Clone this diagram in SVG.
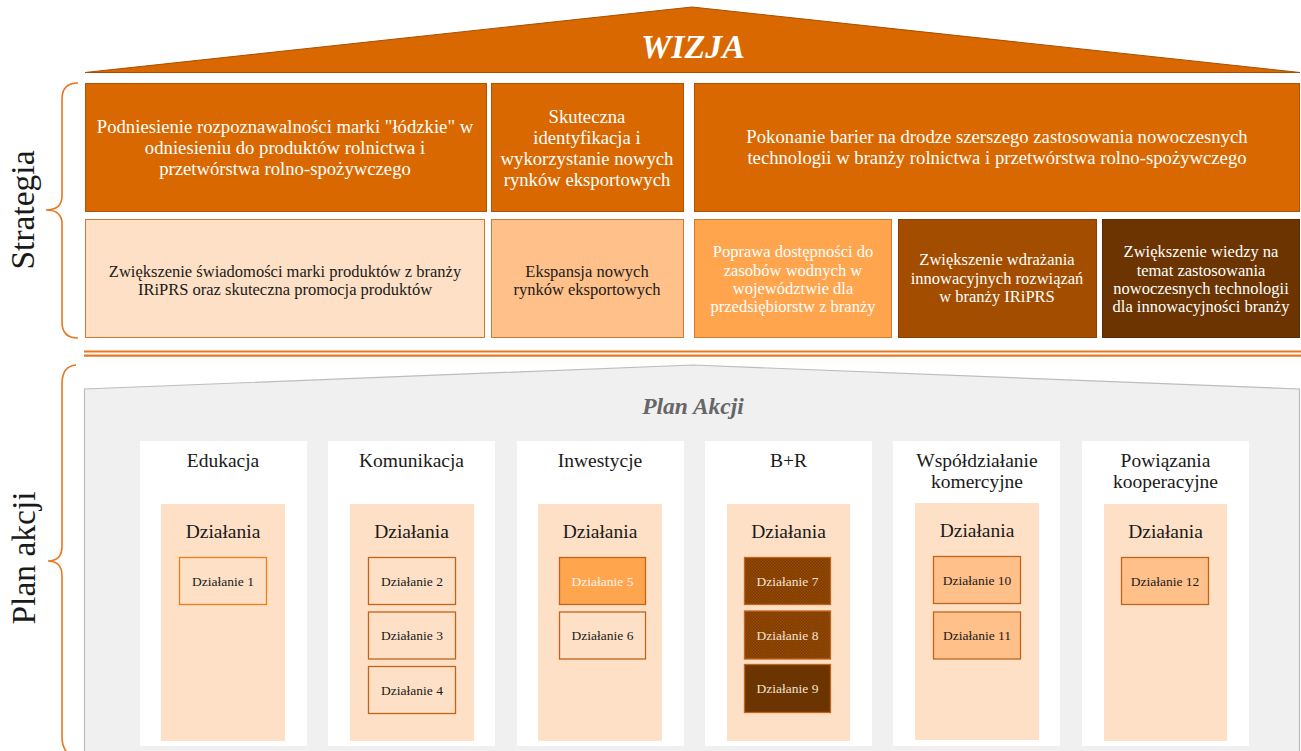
<svg xmlns="http://www.w3.org/2000/svg" width="1301" height="751" viewBox="0 0 1301 751">
<style>
text{font-family:"Liberation Serif","Times New Roman",serif;text-anchor:middle;fill:#1a1a1a}
.w{fill:#ffffff}
.t17{font-size:18.7px}
.t15{font-size:16.5px}
.col{font-size:19.5px}
.dz{font-size:19.5px}
.a{font-size:13.5px}
.side{font-size:33.5px}
.brace{fill:none;stroke:#E8771E;stroke-width:1.6}
.top{fill:#DA6800;stroke:#B05200;stroke-width:1}
.panel{fill:#ffffff}
.peach{fill:#FDE0C5}
.act{stroke-width:1.3}
</style>
<defs>
<pattern id="hatch" width="3" height="3" patternUnits="userSpaceOnUse">
<rect width="3" height="3" fill="#7A3A00"/>
<rect width="1.5" height="1.5" fill="#9A4A05"/>
<rect x="1.5" y="1.5" width="1.5" height="1.5" fill="#9A4A05"/>
</pattern>
</defs>

<g id="roof">
<polygon points="85,72.5 692,7 1300,72.5" fill="#DA6800" stroke="#A84E00" stroke-width="1"/>
<text x="693" y="58" class="w" style="font-size:34px;font-weight:bold;font-style:italic">WIZJA</text>
</g>

<g id="strategia-label">
<path class="brace" d="M78 83 Q62 83 62 99 L62 196 Q62 210 46 210 Q62 210 62 224 L62 322 Q62 338 78 338"/>
<text class="side" transform="translate(34,210) rotate(-90)">Strategia</text>
</g>

<g id="cel1">
<rect class="top" x="85.5" y="83.5" width="401" height="128"/>
<text class="w t17" x="285" y="133">Podniesienie rozpoznawalności marki "łódzkie" w</text>
<text class="w t17" x="285" y="154">odniesieniu do produktów rolnictwa i</text>
<text class="w t17" x="285" y="175">przetwórstwa rolno-spożywczego</text>
</g>
<g id="cel2">
<rect class="top" x="491.5" y="83.5" width="192" height="128"/>
<text class="w t17" x="587" y="123">Skuteczna</text>
<text class="w t17" x="587" y="144">identyfikacja i</text>
<text class="w t17" x="587" y="165">wykorzystanie nowych</text>
<text class="w t17" x="587" y="186">rynków eksportowych</text>
</g>
<g id="cel3">
<rect class="top" x="694.5" y="83.5" width="605" height="128"/>
<text class="w t17" x="997" y="143">Pokonanie barier na drodze szerszego zastosowania nowoczesnych</text>
<text class="w t17" x="997" y="164">technologii w branży rolnictwa i przetwórstwa rolno-spożywczego</text>
</g>

<g id="cel4">
<rect x="85.5" y="219.5" width="399" height="118" fill="#FDE0C5" stroke="#D07A30" stroke-width="1"/>
<text class="t15" x="285" y="277">Zwiększenie świadomości marki produktów z branży</text>
<text class="t15" x="285" y="295">IRiPRS oraz skuteczna promocja produktów</text>
</g>
<g id="cel5">
<rect x="491.5" y="219.5" width="192" height="118" fill="#FFC08A" stroke="#D07A30" stroke-width="1"/>
<text class="t15" x="587" y="277">Ekspansja nowych</text>
<text class="t15" x="587" y="295">rynków eksportowych</text>
</g>
<g id="cel6">
<rect x="694.5" y="219.5" width="197" height="118" fill="#FFA54E" stroke="#D07A30" stroke-width="1"/>
<text class="w t15" x="793" y="257">Poprawa dostępności do</text>
<text class="w t15" x="793" y="276">zasobów wodnych w</text>
<text class="w t15" x="793" y="294">województwie dla</text>
<text class="w t15" x="793" y="312">przedsiębiorstw z branży</text>
</g>
<g id="cel7">
<rect x="898.5" y="219.5" width="198" height="118" fill="#A34D00" stroke="#8A4000" stroke-width="1"/>
<text class="w t15" x="997" y="265">Zwiększenie wdrażania</text>
<text class="w t15" x="997" y="284">innowacyjnych rozwiązań</text>
<text class="w t15" x="997" y="302">w branży IRiPRS</text>
</g>
<g id="cel8">
<rect x="1102.5" y="219.5" width="197" height="118" fill="#6B3400" stroke="#5A2A00" stroke-width="1"/>
<text class="w t15" x="1201" y="257">Zwiększenie wiedzy na</text>
<text class="w t15" x="1201" y="276">temat zastosowania</text>
<text class="w t15" x="1201" y="294">nowoczesnych technologii</text>
<text class="w t15" x="1201" y="312">dla innowacyjności branży</text>
</g>

<g id="separator">
<line x1="84" y1="351.5" x2="1301" y2="351.5" stroke="#E8771E" stroke-width="2.2"/>
<line x1="84" y1="355.7" x2="1301" y2="355.7" stroke="#E8771E" stroke-width="2.2"/>
</g>

<g id="plan-label">
<path class="brace" d="M76 365 Q62 366 62 384 L62 546 Q62 561 48 561 Q62 561 62 576 L62 738 Q62 748 70 756"/>
<text class="side" transform="translate(35,558) rotate(-90)">Plan akcji</text>
</g>

<g id="plan-akcji">
<polygon points="84.5,389 693,365 1299.5,389 1299.5,760 84.5,760" fill="#F0F0F0" stroke="#BDBDBD" stroke-width="1.2"/>
<text x="693" y="414" style="font-size:23.5px;font-weight:bold;font-style:italic;fill:#666666">Plan Akcji</text>
</g>

<g id="edukacja">
<rect class="panel" x="140" y="441" width="167" height="305"/>
<text class="col" x="223" y="467">Edukacja</text>
<rect class="peach" x="161" y="504" width="124" height="237"/>
<text class="dz" x="223" y="538">Działania</text>
<rect class="act" x="179.5" y="557.5" width="87" height="47" fill="#FDE0C5" stroke="#E8801E"/>
<text class="a" x="223" y="585.5">Działanie 1</text>
</g>

<g id="komunikacja">
<rect class="panel" x="328" y="441" width="167" height="305"/>
<text class="col" x="411.5" y="467">Komunikacja</text>
<rect class="peach" x="350" y="504" width="124" height="237"/>
<text class="dz" x="411.5" y="538">Działania</text>
<rect class="act" x="368.5" y="557.5" width="87" height="47" fill="#FDE0C5" stroke="#C0641E"/>
<text class="a" x="412" y="585.5">Działanie 2</text>
<rect class="act" x="368.5" y="612" width="87" height="47" fill="#FDE0C5" stroke="#C0641E"/>
<text class="a" x="412" y="640">Działanie 3</text>
<rect class="act" x="368.5" y="666.5" width="87" height="47" fill="#FDE0C5" stroke="#C0641E"/>
<text class="a" x="412" y="694.5">Działanie 4</text>
</g>

<g id="inwestycje">
<rect class="panel" x="517" y="441" width="167" height="305"/>
<text class="col" x="600" y="467">Inwestycje</text>
<rect class="peach" x="538" y="504" width="124" height="237"/>
<text class="dz" x="600" y="538">Działania</text>
<rect class="act" x="559.5" y="557.5" width="86" height="47" fill="#FFA54E" stroke="#C0641E"/>
<text class="a w" x="602.5" y="585.5" style="fill:#FFF3E8">Działanie 5</text>
<rect class="act" x="559.5" y="612" width="86" height="47" fill="#FDE0C5" stroke="#C0641E"/>
<text class="a" x="602.5" y="640">Działanie 6</text>
</g>

<g id="br">
<rect class="panel" x="705" y="441" width="167" height="305"/>
<text class="col" x="788.5" y="467">B+R</text>
<rect class="peach" x="727" y="504" width="123" height="237"/>
<text class="dz" x="788.5" y="538">Działania</text>
<rect class="act" x="744.5" y="557.5" width="86" height="47" fill="url(#hatch)" stroke="#C0641E"/>
<text class="a" x="787.5" y="585.5" style="fill:#F2E2D2">Działanie 7</text>
<rect class="act" x="744.5" y="611" width="86" height="48" fill="url(#hatch)" stroke="#C0641E"/>
<text class="a" x="787.5" y="639.5" style="fill:#F2E2D2">Działanie 8</text>
<rect class="act" x="744.5" y="664.5" width="86" height="48" fill="#6B3400" stroke="#C0641E"/>
<text class="a" x="787.5" y="693" style="fill:#F2E2D2">Działanie 9</text>
</g>

<g id="wspoldzialanie">
<rect class="panel" x="893" y="441" width="167" height="305"/>
<text class="col" x="977" y="467">Współdziałanie</text>
<text class="col" x="977" y="488">komercyjne</text>
<rect class="peach" x="915" y="503" width="124" height="237"/>
<text class="dz" x="977" y="537">Działania</text>
<rect class="act" x="933.5" y="556.5" width="87" height="47" fill="#FFC08A" stroke="#C0641E"/>
<text class="a" x="977" y="584.5">Działanie 10</text>
<rect class="act" x="933.5" y="612" width="87" height="47" fill="#FFC08A" stroke="#C0641E"/>
<text class="a" x="977" y="640">Działanie 11</text>
</g>

<g id="powiazania">
<rect class="panel" x="1082" y="441" width="167" height="305"/>
<text class="col" x="1165.5" y="467">Powiązania</text>
<text class="col" x="1165.5" y="488">kooperacyjne</text>
<rect class="peach" x="1104" y="504" width="123" height="237"/>
<text class="dz" x="1165.5" y="538">Działania</text>
<rect class="act" x="1121.5" y="557.5" width="87" height="47" fill="#FFC08A" stroke="#C0641E"/>
<text class="a" x="1165" y="585.5">Działanie 12</text>
</g>
</svg>
